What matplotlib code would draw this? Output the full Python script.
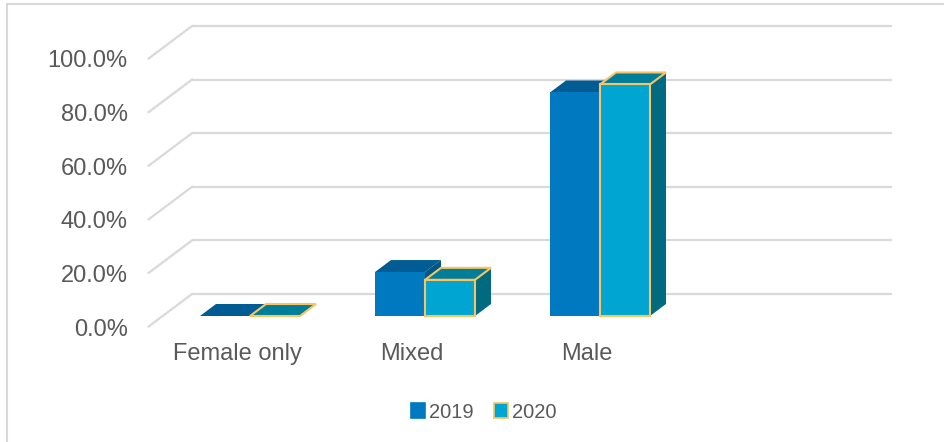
import matplotlib.pyplot as plt
from matplotlib.patches import Polygon, Patch, Rectangle

# --- data ---
categories = ["Female only", "Mixed", "Male"]
years = ["2019", "2020"]
vals_2019 = [0.0, 16.4, 83.4]
vals_2020 = [0.0, 13.5, 86.4]
ticks = [0, 20, 40, 60, 80, 100]
tick_labels = ["0.0%", "20.0%", "40.0%", "60.0%", "80.0%", "100.0%"]

# --- style ---
front_cols = {"2019": "#0079C1", "2020": "#00A6D1"}
top_cols = {"2019": "#005C93", "2020": "#007E99"}
side_cols = {"2019": "#005783", "2020": "#006A80"}
edge_cols = {"2019": "none", "2020": "#FBC461"}
grid_col = "#D9D9D9"
text_col = "#595959"

W, H = 944, 442
# scales: one category = 175 px, one percent = 2.68 px
px_x = 1 / 175
px_y = 1 / 2.68
# depth vector of a bar (16 px right, 12 px up)
DX, DY = 16 * px_x, 12 * px_y
bw = 50 * px_x

fig = plt.figure(figsize=(W / 100, H / 100), dpi=100)
ax = fig.add_axes([0, 0, 1, 1])
ax.set_xlim(-250 * px_x, (W - 250) * px_x)
ax.set_ylim(-(H - 316) * px_y, 316 * px_y)
ax.axis("off")

# chart border (clipped at right and bottom like the original)
fig.patches.append(Rectangle((7 / W, -0.2), 1.2, 1.2 - 4 / H,
                             transform=fig.transFigure, fill=False,
                             edgecolor=grid_col, lw=1.5))

# back wall gridlines and left-wall diagonals
t_front, t_back = -10.5 / 12, 1 + 10 / 12
x_wall = -58 * px_x - t_back * DX
x_end = 642 * px_x
for v, lab in zip(ticks, tick_labels):
    yb = v + t_back * DY
    yf = v + t_front * DY
    xb = x_wall + t_back * DX
    xf = x_wall + t_front * DX
    ax.plot([xb, x_end], [yb, yb], color=grid_col, lw=1.6, solid_capstyle="butt", zorder=1)
    ax.plot([xf, xb], [yf, yb], color=grid_col, lw=1.6, zorder=1)
    ax.text(xf - 21 * px_x, yf - 3 * px_y, lab, ha="right", va="center", fontsize=17,
            color=text_col, family="Liberation Sans")


def draw_bar(x0, v, yr, z):
    x1 = x0 + bw
    ec = edge_cols[yr]
    side = Polygon([(x1, 0), (x1 + DX, DY), (x1 + DX, v + DY), (x1, v)],
                   closed=True, facecolor=side_cols[yr], edgecolor="none", zorder=z)
    top = Polygon([(x0, v), (x1, v), (x1 + DX, v + DY), (x0 + DX, v + DY)],
                  closed=True, facecolor=top_cols[yr], edgecolor=ec, lw=1.5,
                  joinstyle="miter", zorder=z + 0.1)
    ax.add_patch(side)
    ax.add_patch(top)
    if v > 0:
        front = Polygon([(x0, 0), (x1, 0), (x1, v), (x0, v)], closed=True,
                        facecolor=front_cols[yr], edgecolor=ec, lw=1.5,
                        joinstyle="miter", zorder=z + 0.2)
        ax.add_patch(front)


for i, cat in enumerate(categories):
    draw_bar(i - bw, vals_2019[i], "2019", 2)
    draw_bar(i, vals_2020[i], "2020", 3)
    ax.text(i - 13 * px_x, -38 * px_y, cat, ha="center", va="center",
            fontsize=17, color=text_col, family="Liberation Sans")

handles = [Patch(facecolor=front_cols[y], edgecolor=edge_cols[y] if edge_cols[y] != "none" else front_cols[y],
                 lw=1.2, label=y) for y in years]
fig.legend(handles=handles, loc="center", bbox_to_anchor=(484 / W, 1 - 412 / H),
           ncol=2, frameon=False, handlelength=0.7, handleheight=0.7,
           handletextpad=0.2, columnspacing=1.0, labelcolor=text_col,
           prop={"family": "Liberation Sans", "size": 14.5})

fig.savefig("out.png", dpi=100)
